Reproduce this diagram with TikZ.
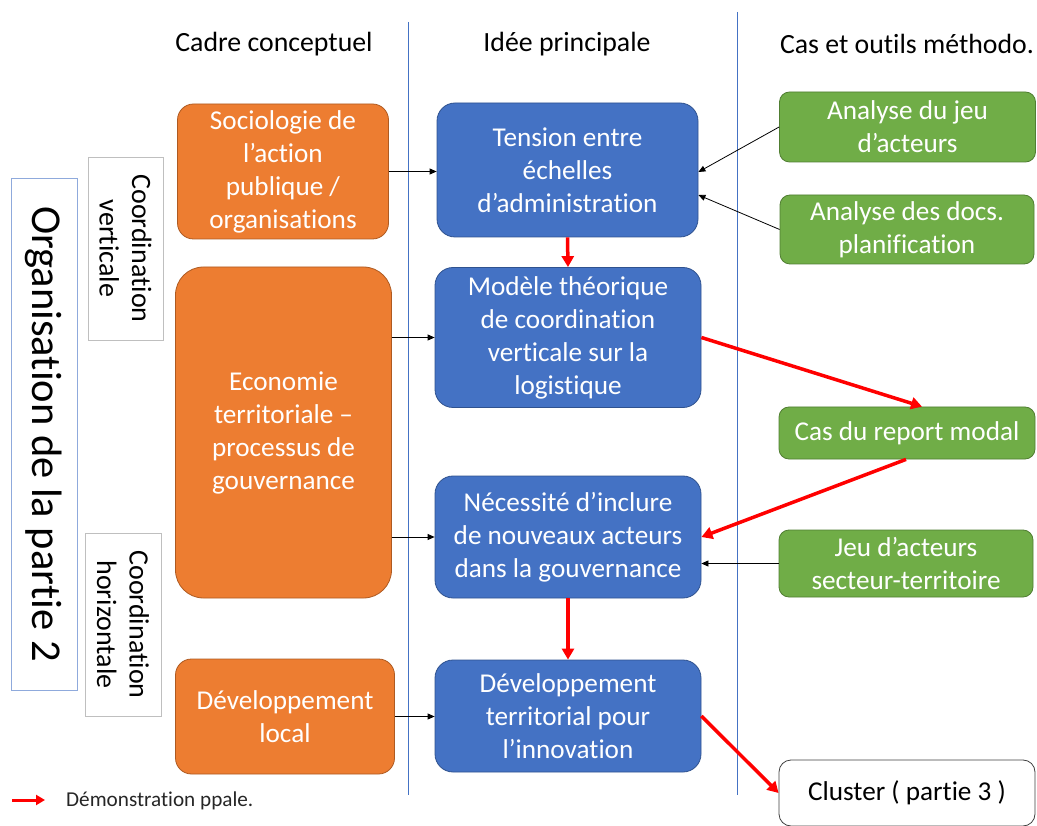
\documentclass[tikz,border=0pt]{standalone}
\usepackage{fontspec}
\setmainfont{Carlito}[Ligatures={NoCommon}]
\usetikzlibrary{arrows.meta}
\definecolor{orfill}{HTML}{ED7D31}
\definecolor{ordraw}{HTML}{AE5A21}
\definecolor{blfill}{HTML}{4472C4}
\definecolor{bldraw}{HTML}{2F528F}
\definecolor{grfill}{HTML}{70AD47}
\definecolor{grdraw}{HTML}{507E32}
\definecolor{sepline}{HTML}{4472C4}
\definecolor{orgline}{HTML}{8FAADC}
\definecolor{greyline}{HTML}{BFBFBF}
\definecolor{txtdark}{HTML}{262626}
\definecolor{redarrow}{HTML}{FF0000}
\begin{document}
\begin{tikzpicture}[x=1pt,y=-1pt,
  basefont/.style={font=\fontsize{27.2}{33}\selectfont},
  shapebox/.style={basefont, draw, line width=0.8pt, align=center, inner sep=0pt, text=white},
  obox/.style={shapebox, fill=orfill, draw=ordraw},
  bbox/.style={shapebox, fill=blfill, draw=bldraw, rounded corners=18pt},
  gbox/.style={shapebox, fill=grfill, draw=grdraw, rounded corners=10pt},
  sidebox/.style={font=\fontsize{28}{32.5}\selectfont, draw=greyline, line width=0.8pt, align=center, inner sep=0pt, text=black, rotate=-90},
  header/.style={font=\fontsize{27.8}{33}\selectfont, text=black, anchor=center},
  thin/.style={draw=black, line width=0.8pt, -{Triangle[length=7pt,width=6pt]}},
  demo/.style={draw=redarrow, line width=3.5pt, -{Triangle[length=11pt,width=12pt]}},
  sep/.style={draw=sepline, line width=0.8pt}
]
\useasboundingbox (0,0) rectangle (1037,826);

% column separators
\coordinate (s1a) at (408,22);
\coordinate (s1b) at (408,795);
\coordinate (s2a) at (737,12);
\coordinate (s2b) at (737,795);
\draw[sep] (s1a) -- (s1b);
\draw[sep] (s2a) -- (s2b);

% headers
\node[header] (h1) at (274,44) {Cadre conceptuel};
\node[header] (h2) at (567,44) {Idée principale};
\node[header] (h3) at (907,44) {Cas et outils méthodo.};

% left side boxes
\node[draw=orgline, line width=0.8pt, minimum width=512pt, minimum height=66pt, inner sep=0pt, rotate=-90,
      font=\fontsize{42.5}{48}\selectfont] (org) at (44,434) {Organisation de la partie 2};
\node[sidebox, minimum width=183pt, minimum height=75pt] (cv) at (125.5,248.5) {Coordination\\verticale};
\node[sidebox, minimum width=183pt, minimum height=76pt] (ch) at (123,624.5) {Coordination\\horizontale};

% orange boxes
\node[obox, rounded corners=16pt, minimum width=211pt, minimum height=135pt] (socio) at (283,171.5)
  {Sociologie de\\l’action\\publique /\\organisations};
\node[obox, rounded corners=28pt, minimum width=216pt, minimum height=331pt] (eco) at (283.5,432.5)
  {Economie\\territoriale –\\processus de\\gouvernance};
\node[obox, rounded corners=16pt, minimum width=219pt, minimum height=115pt] (devl) at (285,716.5)
  {Développement\\local};

% blue boxes
\node[bbox, minimum width=261pt, minimum height=134pt] (tension) at (567.5,170)
  {Tension entre\\échelles\\d’administration};
\node[bbox, minimum width=266pt, minimum height=140pt] (modele) at (568,337.5)
  {Modèle théorique\\de coordination\\verticale sur la\\logistique};
\node[bbox, minimum width=266pt, minimum height=122pt] (necess) at (568,537)
  {Nécessité d’inclure\\de nouveaux acteurs\\dans la gouvernance};
\node[bbox, minimum width=266pt, minimum height=112pt] (devt) at (568,716)
  {Développement\\territorial pour\\l’innovation};

% green boxes
\node[gbox, minimum width=256pt, minimum height=70pt] (ajeu) at (907.5,127)
  {Analyse du jeu\\d’acteurs};
\node[gbox, minimum width=254pt, minimum height=69pt] (adocs) at (907,229.5)
  {Analyse des docs.\\planification};
\node[gbox, minimum width=256pt, minimum height=52pt] (cas) at (907,433)
  {Cas du report modal};
\node[gbox, minimum width=254pt, minimum height=67pt] (jeu) at (906,563.5)
  {Jeu d’acteurs\\secteur-territoire};

% cluster box
\node[basefont, draw=black!75, line width=0.8pt, rounded corners=12pt, fill=white, inner sep=0pt,
      minimum width=256pt, minimum height=66pt] (cluster) at (907,793) {Cluster ( partie 3 )};

% black connectors
\draw[thin] (socio.east) -- (socio.east -| tension.west);
\draw[thin] (eco.east |- modele.west) -- (modele.west);
\draw[thin] (eco.east |- necess.west) -- (necess.west);
\draw[thin] (devl.east) -- (devl.east -| devt.west);
\draw[thin] (ajeu.west) -- ([yshift=-2pt]tension.east);
\draw[thin] (adocs.west) -- ([yshift=-25pt]tension.east);
\draw[thin] (jeu.west) -- (jeu.west -| necess.east);

% red main demonstration arrows
\draw[demo] (tension.south) -- (modele.north);
\draw[demo] (modele.east) -- ([xshift=15pt]cas.north);
\draw[demo] ([xshift=-1pt]cas.south) -- (necess.east);
\draw[demo] (necess.south) -- (devt.north);
\draw[demo] (devt.east) -- (cluster.west);

% legend
\coordinate (lga) at (12,800);
\coordinate (lgb) at (45,800);
\draw[draw=redarrow, line width=3pt, -{Triangle[length=9pt,width=10pt]}] (lga) -- (lgb);
\node[font=\fontsize{21.2}{25}\selectfont, text=txtdark, anchor=west, inner sep=0pt] (lgt) at (66,801) {Démonstration ppale.};
\end{tikzpicture}
\end{document}
